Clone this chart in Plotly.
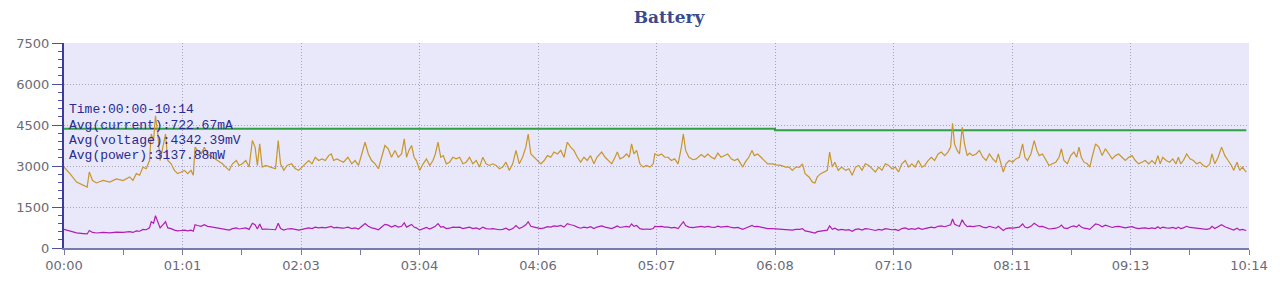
import plotly.graph_objects as go
import numpy as np

# ---- data ----
time_min = [
    0, 3.1, 6.5, 10.0, 12.0, 13.1, 14.8, 16.8, 20.3, 23.7,
    27.1, 30.6, 34.0, 35.7, 37.5, 39.2, 40.9, 42.6, 44.3, 45.2,
    46.4, 47.4, 48.6, 49.8, 51.2, 52.6, 53.8, 55.5, 57.2, 58.9,
    60.7, 62.4, 64.1, 65.8, 67.0, 67.9, 69.2, 71.0, 72.7, 74.4,
    77.0, 79.6, 82.1, 83.8, 85.6, 87.3, 89.3, 90.7, 92.4, 94.2,
    95.9, 97.6, 99.0, 100.2, 101.4, 102.7, 104.5, 107.0, 109.6, 111.0,
    112.2, 113.9, 115.6, 117.9, 119.9,
    121.6, 123.4, 125.1, 126.8, 128.5, 130.2, 131.9, 133.7, 135.4, 137.1,
    138.5, 139.7, 141.4, 143.1, 144.8, 147.1, 149.1, 150.8, 152.6, 154.3,
    156.0, 157.7, 159.4, 161.2, 162.9, 164.6, 166.3, 168.0, 169.7, 171.5,
    173.2, 174.9, 176.3, 177.5, 178.7, 180.1, 181.4, 182.6, 184.3, 186.1,
    187.8, 189.5, 191.2, 192.4, 193.8, 195.2, 196.5, 198.1, 199.8, 201.5,
    203.2, 205.0, 206.7, 208.4, 210.1, 211.8, 213.6, 215.3, 217.0, 218.7,
    220.4, 222.2, 223.9, 225.6, 227.3, 229.0, 230.7, 232.5, 234.2, 235.9,
    237.6, 239.3, 240.5, 241.9, 243.6, 245.3, 247.1, 248.8, 250.5, 252.2,
    253.9, 255.7, 257.4, 259.1, 260.8, 262.5, 264.2, 266.0, 267.7, 269.4,
    271.1, 272.8, 274.6,
    276.1, 278.6, 280.4, 282.1, 283.8, 285.5, 286.7, 288.1, 289.8, 291.5,
    292.9, 294.1, 295.3, 296.7, 298.4, 300.1, 301.8, 303.6, 305.3, 306.1,
    307.9, 309.6, 311.3, 313.0, 314.7, 316.4, 318.2, 319.9, 320.9, 322.1,
    323.8, 325.9, 327.6, 330.2, 331.9, 333.6, 335.4, 337.1, 338.8, 340.5,
    342.2, 343.9, 345.7, 347.4, 349.1, 350.8, 351.7, 353.0, 354.8, 356.5,
    357.7, 359.4, 361.1, 362.8, 364.6, 367.1, 368.9, 371.4, 374.0, 375.7,
    377.4, 379.2, 381.2, 382.6, 384.0, 386.0, 387.8, 389.1, 390.3, 392.1,
    393.8, 395.5, 396.7, 398.1, 399.4, 401.2, 402.9, 405.0, 406.7, 408.4,
    410.1, 411.8, 413.5, 415.2, 417.0, 418.7, 420.4, 422.1, 423.8, 425.6,
    427.3, 429.0, 430.7, 432.4, 434.1, 435.9, 437.6, 439.3, 441.0, 442.7,
    444.5,
    446.0, 447.7, 449.4, 451.1, 452.9, 454.6, 456.3, 458.0, 459.4, 460.4,
    461.4, 462.8, 464.0, 465.4, 466.6, 468.0, 469.2, 470.9, 472.6, 474.3,
    476.1, 477.8, 479.5, 481.2, 482.9, 484.1, 485.5, 486.7, 488.1, 489.8,
    491.5, 493.2, 495.0, 496.7, 497.9, 499.2, 501.0, 502.7, 504.1, 505.3,
    507.0, 508.7, 510.4, 512.1, 513.9, 515.6, 516.8, 518.1, 519.9, 521.6,
    523.3, 524.7, 525.9, 527.1, 528.5, 530.2, 531.5, 532.7, 534.5, 536.2,
    537.9, 539.6, 541.3, 543.1, 544.8, 546.5, 548.2, 549.9, 551.7, 553.4,
    555.1, 556.8, 558.5, 560.2, 562.0, 563.7, 565.4, 566.8, 568.0, 569.3,
    571.1, 572.8, 574.5, 576.2, 577.4, 578.6, 580.0, 581.7, 583.4, 585.2,
    586.9, 588.6, 590.3, 592.0, 593.7, 594.8, 596.3, 598.0, 599.8, 601.5,
    603.2, 604.9, 606.1, 607.8, 609.2, 610.6, 611.8, 612.6,
]

power_mw = [
    2960, 2720, 2410, 2290, 2230, 2780, 2470, 2380, 2470, 2410,
    2530, 2470, 2600, 2470, 2720, 2660, 2960, 2900, 3200, 4170,
    3930, 4840, 4170, 3200, 3690, 4170, 3200, 3080, 2840, 2720,
    2780, 2840, 2720, 2840, 2660, 3690, 3570, 3440, 3690, 3440,
    3320, 3200, 3080, 2960, 2840, 3080, 3200, 3020, 3080, 3200,
    2960, 3930, 3690, 3020, 3810, 2960, 3020, 2960, 2900, 3930,
    3080, 2840, 3020, 3080, 2900,
    2840, 2960, 3080, 3200, 3080, 3320, 3200, 3260, 3200, 3380,
    3440, 3200, 3260, 3200, 3140, 3320, 3080, 3200, 3020, 3440,
    3870, 3440, 3200, 3080, 2900, 3320, 3750, 3630, 3320, 3570,
    3320, 3440, 3990, 3320, 3570, 3750, 3320, 3200, 2840, 3080,
    3260, 3020, 3200, 3440, 3870, 3320, 3380, 3080, 3140, 3320,
    3260, 3320, 3080, 3140, 3320, 3080, 3200, 2960, 3320, 3080,
    3020, 3080, 3020, 2900, 2960, 3140, 2840, 3080, 3570, 3080,
    3320, 3690, 4170, 3440, 3320, 3200, 3080, 3200, 3380, 3320,
    3510, 3440, 3570, 3320, 3870, 3690, 3570, 3320, 3140, 3320,
    3200, 3380, 3080,
    3320, 3510, 3320, 3200, 3080, 3320, 3510, 3260, 3320, 3440,
    3320, 3810, 3440, 3570, 3080, 2960, 3020, 2960, 3080, 3440,
    3380, 3440, 3320, 3320, 3200, 3260, 3080, 3690, 4170, 3570,
    3320, 3230, 3260, 3420, 3320, 3440, 3320, 3260, 3470, 3320,
    3380, 3440, 3260, 3200, 3260, 3080, 2960, 3140, 3320, 3570,
    3380, 3440, 3320, 3200, 3080, 3080, 3040, 3020, 2960, 2960,
    2840, 2960, 2960, 3080, 2720, 2600, 2410, 2380, 2600, 2720,
    2780, 2840, 3510, 2960, 3140, 2840, 2960, 2840, 2900, 2660,
    2960, 3020, 2840, 3080, 3020, 2900, 2780, 2960, 2840, 3080,
    3020, 2900, 2960, 2780, 3080, 3200, 2960, 3080, 2960, 3200,
    2960,
    3020, 3200, 3320, 3200, 3440, 3510, 3380, 3510, 3690, 4560,
    3810, 3570, 3440, 4420, 3810, 3380, 3470, 3380, 3440, 3570,
    3320, 3200, 3440, 3260, 3140, 3440, 3080, 2780, 3080, 3200,
    3140, 3260, 3320, 3810, 3320, 3200, 3440, 3930, 3570, 3380,
    3440, 3200, 3020, 3080, 3140, 3320, 3630, 3200, 3080, 3380,
    3510, 3320, 3690, 3320, 3140, 3080, 2960, 3320, 3810, 3690,
    3380, 3630, 3440, 3260, 3380, 3440, 3320, 3200, 3320, 3380,
    3200, 3080, 3140, 3200, 3080, 3200, 3080, 3380, 3080, 3320,
    3200, 3140, 3260, 3080, 3320, 3080, 3200, 3440, 3260, 3200,
    3080, 3140, 3020, 2960, 3080, 3440, 3080, 3320, 3690, 3380,
    3200, 3020, 2840, 3140, 2840, 2960, 2840, 2780,
]

current_ma = [
    682, 627, 555, 528, 514, 641, 569, 548, 569, 555,
    583, 569, 599, 569, 627, 613, 682, 668, 737, 961,
    906, 1180, 961, 737, 850, 961, 737, 710, 654, 627,
    641, 654, 627, 654, 613, 850, 823, 793, 850, 793,
    765, 737, 710, 682, 654, 710, 737, 696, 710, 737,
    682, 906, 850, 696, 878, 682, 696, 682, 668, 906,
    710, 654, 696, 710, 668,
    654, 682, 710, 737, 710, 765, 737, 751, 737, 779,
    793, 737, 751, 737, 724, 765, 710, 737, 696, 793,
    892, 793, 737, 710, 668, 765, 864, 836, 765, 823,
    765, 793, 919, 765, 823, 864, 765, 737, 654, 710,
    751, 696, 737, 793, 892, 765, 779, 710, 724, 765,
    751, 765, 710, 724, 765, 710, 737, 682, 765, 710,
    696, 710, 696, 668, 682, 724, 654, 710, 823, 710,
    765, 850, 961, 793, 765, 737, 710, 737, 779, 765,
    809, 793, 823, 765, 892, 850, 823, 765, 724, 765,
    737, 779, 710,
    765, 809, 765, 737, 710, 765, 809, 751, 765, 793,
    765, 878, 793, 823, 710, 682, 696, 682, 710, 793,
    779, 793, 765, 765, 737, 751, 710, 850, 961, 823,
    765, 744, 751, 788, 765, 793, 765, 751, 800, 765,
    779, 793, 751, 737, 751, 710, 682, 724, 765, 823,
    779, 793, 765, 737, 710, 710, 700, 696, 682, 682,
    654, 682, 682, 710, 627, 599, 555, 548, 599, 627,
    641, 654, 809, 682, 724, 654, 682, 654, 668, 613,
    682, 696, 654, 710, 696, 668, 641, 682, 654, 710,
    696, 668, 682, 641, 710, 737, 682, 710, 682, 737,
    682,
    696, 737, 765, 737, 793, 809, 779, 809, 850, 1060,
    878, 823, 793, 1030, 878, 779, 800, 779, 793, 823,
    765, 737, 793, 751, 724, 793, 710, 641, 710, 737,
    724, 751, 765, 878, 765, 737, 793, 906, 823, 779,
    793, 737, 696, 710, 724, 765, 836, 737, 710, 779,
    809, 765, 850, 765, 724, 710, 682, 765, 878, 850,
    779, 836, 793, 751, 779, 793, 765, 737, 765, 779,
    737, 710, 724, 737, 710, 737, 710, 779, 710, 765,
    737, 724, 751, 710, 765, 710, 737, 793, 751, 737,
    710, 724, 696, 682, 710, 793, 710, 765, 850, 779,
    737, 696, 654, 724, 654, 682, 654, 641,
]

voltage_t = [0, 368.4, 612.6]
voltage_mv = [4362, 4312, 4312]

x_tick_labels = ["00:00", "01:01", "02:03", "03:04", "04:06", "05:07",
                 "06:08", "07:10", "08:11", "09:13", "10:14"]
total_min = 614
info_lines = ["Time:00:00-10:14", "Avg(current):722.67mA",
              "Avg(voltage):4342.39mV", "Avg(power):3137.88mW"]

# ---- figure ----
major_x = np.linspace(0, total_min, len(x_tick_labels))
minor_x = (major_x[:-1] + major_x[1:]) / 2

fig = go.Figure()
fig.add_trace(go.Scatter(x=time_min, y=current_ma, mode="lines",
                         line=dict(color="#b21cb2", width=1.2), showlegend=False))
fig.add_trace(go.Scatter(x=voltage_t, y=voltage_mv, mode="lines",
                         line=dict(color="#2ea043", width=2, shape="hv"), showlegend=False))
fig.add_trace(go.Scatter(x=time_min, y=power_mw, mode="lines",
                         line=dict(color="#c8962a", width=1.2), showlegend=False))

tick_font = dict(family="DejaVu Sans", size=13, color="#6a6a78")
grid = dict(showgrid=True, gridcolor="#a4a4c0", griddash="1px,2px", gridwidth=1)

fig.update_layout(
    width=1280, height=285,
    margin=dict(l=64, r=24, t=43, b=37),
    paper_bgcolor="white", plot_bgcolor="#e8e8fa",
    title=dict(text="<b>Battery</b>", x=669 / 1280, xref="container", xanchor="center",
               y=1 - 17 / 285, yref="container", yanchor="middle",
               font=dict(family="DejaVu Serif", size=17, color="#3b4a8c")),
    xaxis=dict(range=[0, total_min], tickmode="array", tickvals=major_x,
               ticktext=x_tick_labels, ticks="outside", ticklen=5,
               tickcolor="#7a7aa8", showline=True, linecolor="#7a7aa8", linewidth=1.5,
               zeroline=False, tickfont=tick_font,
               minor=dict(tickmode="array", tickvals=minor_x, ticks="outside",
                          ticklen=5, tickcolor="#7a7aa8", showgrid=False),
               **grid),
    yaxis=dict(range=[0, 7500], tickmode="linear", tick0=0, dtick=1500,
               ticks="outside", ticklen=10, tickcolor="#5050a0",
               showline=True, linecolor="#3a3aa0", linewidth=2,
               zeroline=False, tickfont=tick_font,
               minor=dict(dtick=300, ticks="outside", ticklen=4,
                          tickcolor="#5050a0", showgrid=False),
               **grid),
)

line_px = [110, 125, 140, 155]
for txt, ypx in zip(info_lines, line_px):
    fig.add_annotation(text=txt, xref="paper", yref="paper",
                       x=(67 - 64) / 1192, y=(248 - ypx) / 205,
                       xanchor="left", yanchor="middle", showarrow=False,
                       font=dict(family="Liberation Mono", size=13, color="#2a2a90"))

fig.write_html("out.html")
